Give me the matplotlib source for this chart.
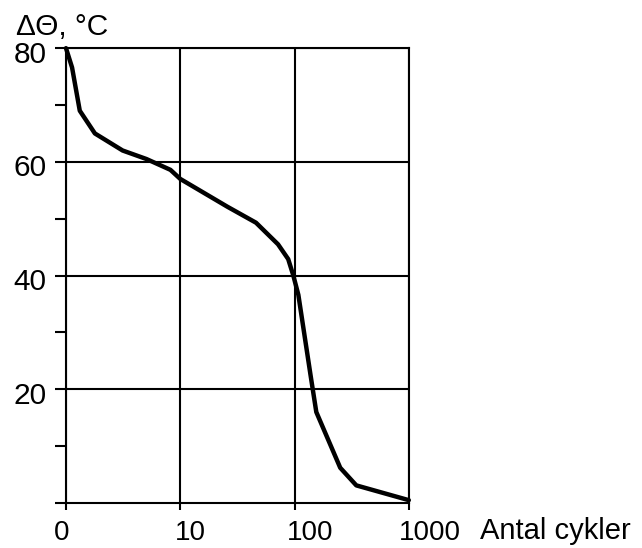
import numpy as np
import matplotlib.pyplot as plt
from matplotlib.ticker import FixedLocator, FixedFormatter
from matplotlib.transforms import ScaledTranslation

plt.rcParams['font.family'] = ['Liberation Sans', 'DejaVu Sans']

# curve (cycles, temperature difference)
cycles = [1, 1.13, 1.32, 1.79, 3.13, 5.06, 8.2, 10, 25.9, 46, 71.7, 88, 97.6,
          108, 138, 155, 251, 347, 1000]
delta_t = [80, 76.6, 69, 65, 62, 60.5, 58.6, 57, 52.1, 49.3, 45.5, 42.9, 40,
           36.6, 22.5, 16, 6.2, 3.1, 0.5]

x_ticks = [1, 10, 100, 1000]
x_labels = ['0', '10', '100', '1000']
y_ticks = [20, 40, 60, 80]
y_minor = [0, 10, 30, 50, 70]

fig = plt.figure(figsize=(6.42, 5.48), dpi=100)
ax = fig.add_axes([0.1028, 0.0821, 0.534, 0.830])

ax.plot(cycles, delta_t, color='black', lw=3.2, solid_joinstyle='round',
        solid_capstyle='round', clip_on=False, zorder=3)

ax.set_xscale('log')
ax.set_xlim(1, 1000)
ax.set_ylim(0, 80)

ax.xaxis.set_major_locator(FixedLocator(x_ticks))
ax.xaxis.set_major_formatter(FixedFormatter(x_labels))
ax.xaxis.set_minor_locator(FixedLocator([]))
ax.yaxis.set_major_locator(FixedLocator(y_ticks))
ax.yaxis.set_minor_locator(FixedLocator(y_minor))

ax.grid(True, which='major', color='black', lw=1.5)
for s in ax.spines.values():
    s.set_color('black')
    s.set_linewidth(1.5)

ax.tick_params(axis='y', which='both', direction='out', length=8, width=1.5,
               labelsize=21.5, pad=6)
ax.tick_params(axis='x', which='major', direction='out', length=5, width=1.5,
               labelsize=20, pad=7)

# labels in the original sit a little off their gridlines
x_shift = [-4.5, 10, 16, 21]
for lab, dx in zip(ax.get_xticklabels(), x_shift):
    lab.set_transform(lab.get_transform() + ScaledTranslation(dx / 100, 0, fig.dpi_scale_trans))
for lab in ax.get_yticklabels():
    lab.set_transform(lab.get_transform() + ScaledTranslation(0, -3.5 / 100, fig.dpi_scale_trans))

fig.text(0.025, 0.936, 'ΔΘ, °C', fontsize=21.5, ha='left', va='baseline')
fig.text(0.748, 0.016, 'Antal cykler', fontsize=21, ha='left', va='baseline')

fig.savefig('out.png', dpi=100)
